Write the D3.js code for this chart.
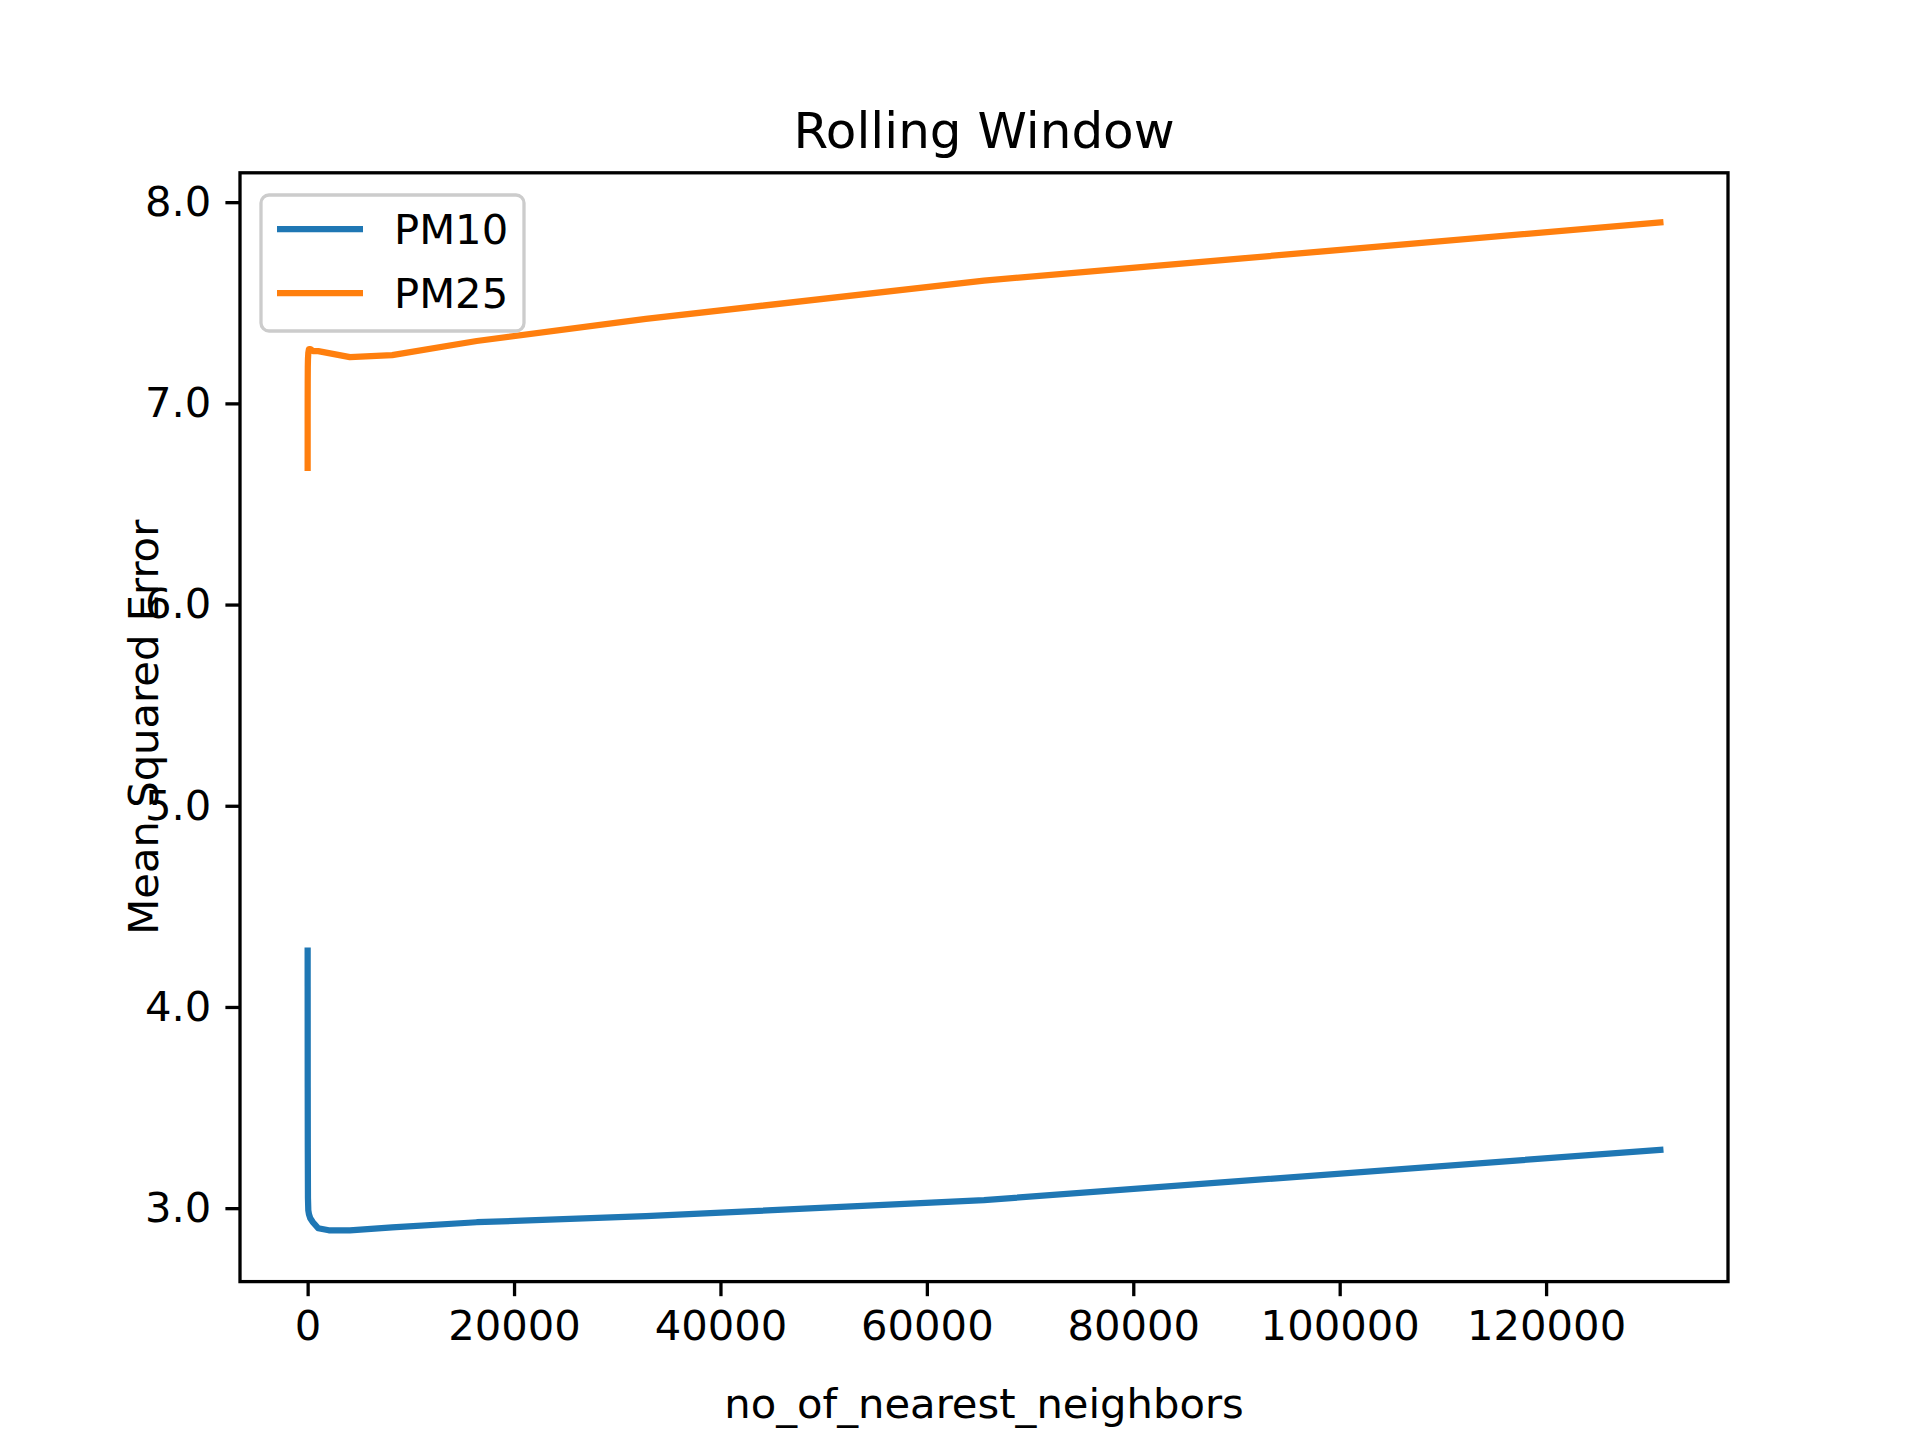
<!DOCTYPE html>
<html><head><meta charset="utf-8">
<script src="https://cdn.jsdelivr.net/npm/d3@7"></script>
<style>body{margin:0;background:#fff}svg{font-family:"DejaVu Sans",sans-serif}</style>
</head><body><svg id="c" width="1920" height="1440"></svg>
<script>
const xs = [1,2,4,8,16,32,64,128,256,512,1024,2048,4096,8192,16384,32768,65536,131072];
const pm10 = [4.28,4.1,3.93,3.6,3.3,3.05,2.99,2.97,2.95,2.93,2.9,2.89,2.89,2.905,2.93,2.96,3.04,3.29];
const pm25 = [6.68,6.9,7.03,7.1,7.18,7.22,7.25,7.27,7.27,7.26,7.26,7.25,7.23,7.24,7.31,7.42,7.61,7.90];
const xTicks = [0,20000,40000,60000,80000,100000,120000];
const yTicks = [3,4,5,6,7,8];
const series = [{name:"PM10",vals:pm10,color:"#1f77b4"},{name:"PM25",vals:pm25,color:"#ff7f0e"}];

const L=240,R=1728,T=172.8,B=1281.6;
const svg=d3.select("#c");
const x=d3.scaleLinear().domain([-6553.6,137625.6]).range([L,R]);
const y=d3.scaleLinear().domain([2.635,8.146]).range([B,T]);
const fs=41.7;
const gx=svg.append("g").attr("transform",`translate(0,${B})`)
 .call(d3.axisBottom(x).tickValues(xTicks).tickFormat(d3.format("d")).tickSize(14.6).tickPadding(14));
const gy=svg.append("g").attr("transform",`translate(${L},0)`)
 .call(d3.axisLeft(y).tickValues(yTicks).tickSize(14.6).tickPadding(14));
[gx,gy].forEach(g=>{g.select(".domain").remove();g.selectAll("line").attr("stroke","#000").attr("stroke-width",3.3);
 g.selectAll("text").attr("font-size",fs).attr("fill","#000").attr("font-family","DejaVu Sans");});
const line=d3.line().x((d,i)=>x(xs[i])).y(d=>y(d));
series.forEach(s=>svg.append("path").attr("d",line(s.vals)).attr("fill","none").attr("stroke",s.color)
 .attr("stroke-width",6.25).attr("stroke-linejoin","round").attr("stroke-linecap","square"));
svg.append("rect").attr("x",L).attr("y",T).attr("width",R-L).attr("height",B-T).attr("fill","none").attr("stroke","#000").attr("stroke-width",3.3);
svg.append("text").attr("x",(L+R)/2).attr("y",T-25).attr("text-anchor","middle").attr("font-size",50).text("Rolling Window");
svg.append("text").attr("x",(L+R)/2).attr("y",1418).attr("text-anchor","middle").attr("font-size",fs).text("no_of_nearest_neighbors");
svg.append("text").attr("transform",`translate(158,${(T+B)/2}) rotate(-90)`).attr("text-anchor","middle").attr("font-size",fs).text("Mean Squared Error");
const lg=svg.append("g");
lg.append("rect").attr("x",261).attr("y",195).attr("width",263).attr("height",136).attr("rx",8).attr("fill","#fff").attr("fill-opacity",0.8).attr("stroke","#ccc").attr("stroke-width",3.3);
series.forEach((s,i)=>{const cy=229+i*64;
 lg.append("line").attr("x1",277).attr("x2",363).attr("y1",cy).attr("y2",cy).attr("stroke",s.color).attr("stroke-width",6.25);
 lg.append("text").attr("x",394).attr("y",cy+15).attr("font-size",fs).text(s.name);});
</script></body></html>
